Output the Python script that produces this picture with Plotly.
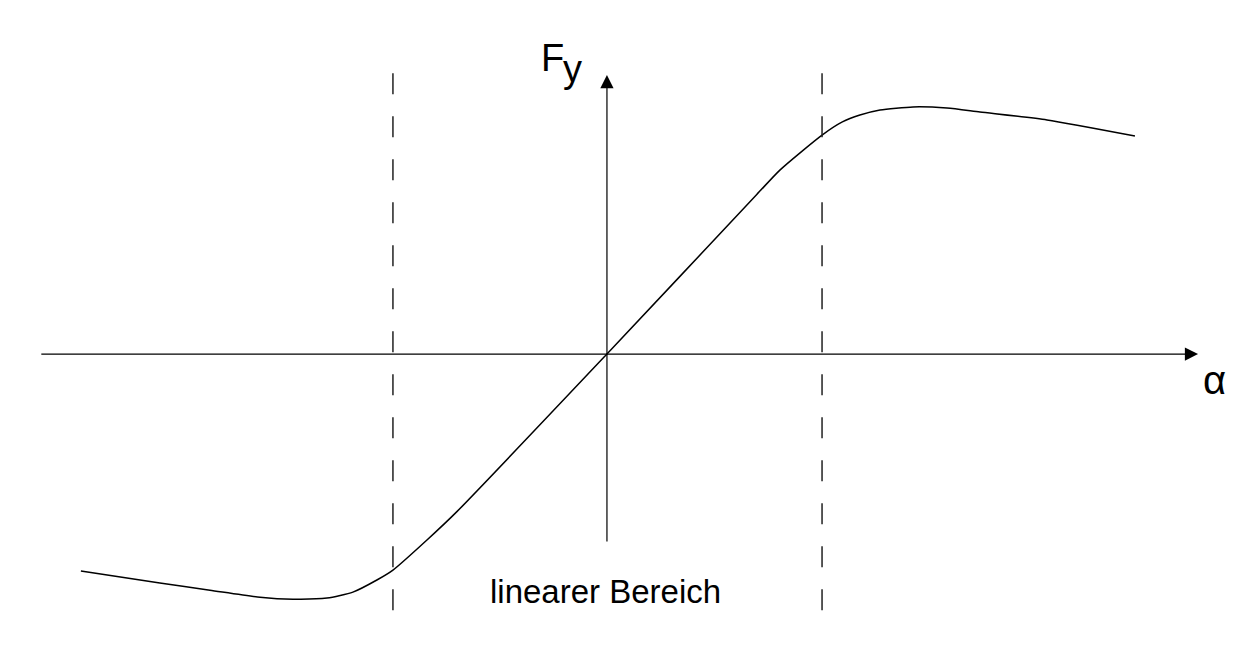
import plotly.graph_objects as go

# Curve F_y(alpha) in normalised units (alpha: dashed limits at +-1)
alpha = [-2.458, -2.089, -1.855, -1.621, -1.467, -1.308, -1.187, -1.075, -1.0,
         -0.841, -0.70, 0.0, 0.70, 0.808, 1.005, 1.10, 1.182, 1.276,
         1.43, 1.589, 1.743, 2.056, 2.467]
fy = [-0.986, -1.041, -1.073, -1.105, -1.114, -1.109, -1.082, -1.027, -0.982,
      -0.845, -0.715, 0.0, 0.725, 0.836, 0.995, 1.055, 1.086, 1.109,
      1.123, 1.118, 1.1, 1.064, 0.991]

linear_limits = [-1.0, 1.005]
x_axis_span = [-2.650, 2.762]
y_axis_span = [-0.859, 1.268]
dash_span = [-1.164, 1.282]

x_range = [-2.836, 3.014]
y_range = [-1.445, 1.609]

FONT = "Liberation Sans, Arial, sans-serif"

fig = go.Figure()
fig.add_trace(go.Scatter(x=alpha, y=fy, mode="lines",
                         line=dict(color="black", width=1.5, shape="spline", smoothing=0.6),
                         hoverinfo="skip", showlegend=False))

for xl in linear_limits:
    fig.add_shape(type="line", x0=xl, x1=xl, y0=dash_span[0], y1=dash_span[1],
                  xref="x", yref="y",
                  line=dict(color="#222222", width=1.5, dash="21px,22px"))

# axes with arrows
fig.add_annotation(x=x_axis_span[1], y=0, ax=x_axis_span[0], ay=0,
                   xref="x", yref="y", axref="x", ayref="y", text="",
                   showarrow=True, arrowhead=2, arrowsize=2.2, arrowwidth=1.2,
                   arrowcolor="black")
fig.add_annotation(x=0, y=y_axis_span[1], ax=0, ay=y_axis_span[0],
                   xref="x", yref="y", axref="x", ayref="y", text="",
                   showarrow=True, arrowhead=2, arrowsize=2.2, arrowwidth=1.2,
                   arrowcolor="black")

# labels (positions in pixels, converted to paper below)
labels = [
    dict(x=539, y=58, text="F", size=38, xanchor="left"),
    dict(x=561, y=69, text="y", size=38, xanchor="left"),
    dict(x=1214, y=380, text="α", size=40, xanchor="center"),
    dict(x=605, y=591, text="linearer Bereich", size=33, xanchor="center"),
]
for lb in labels:
    fig.add_annotation(x=lb["x"] / 1252, y=1 - lb["y"] / 672,
                       xref="paper", yref="paper", text=lb["text"],
                       showarrow=False,
                       font=dict(family=FONT, size=lb["size"], color="black"),
                       xanchor=lb["xanchor"], yanchor="middle")

fig.update_layout(
    width=1252, height=672,
    margin=dict(l=0, r=0, t=0, b=0),
    paper_bgcolor="white", plot_bgcolor="white",
    xaxis=dict(range=x_range, visible=False, fixedrange=True),
    yaxis=dict(range=y_range, visible=False, fixedrange=True),
)

fig.write_html("out.html", config={"displayModeBar": False, "staticPlot": True},
               post_script="document.body.style.margin='0';document.body.style.padding='0';document.body.style.overflow='hidden';")
